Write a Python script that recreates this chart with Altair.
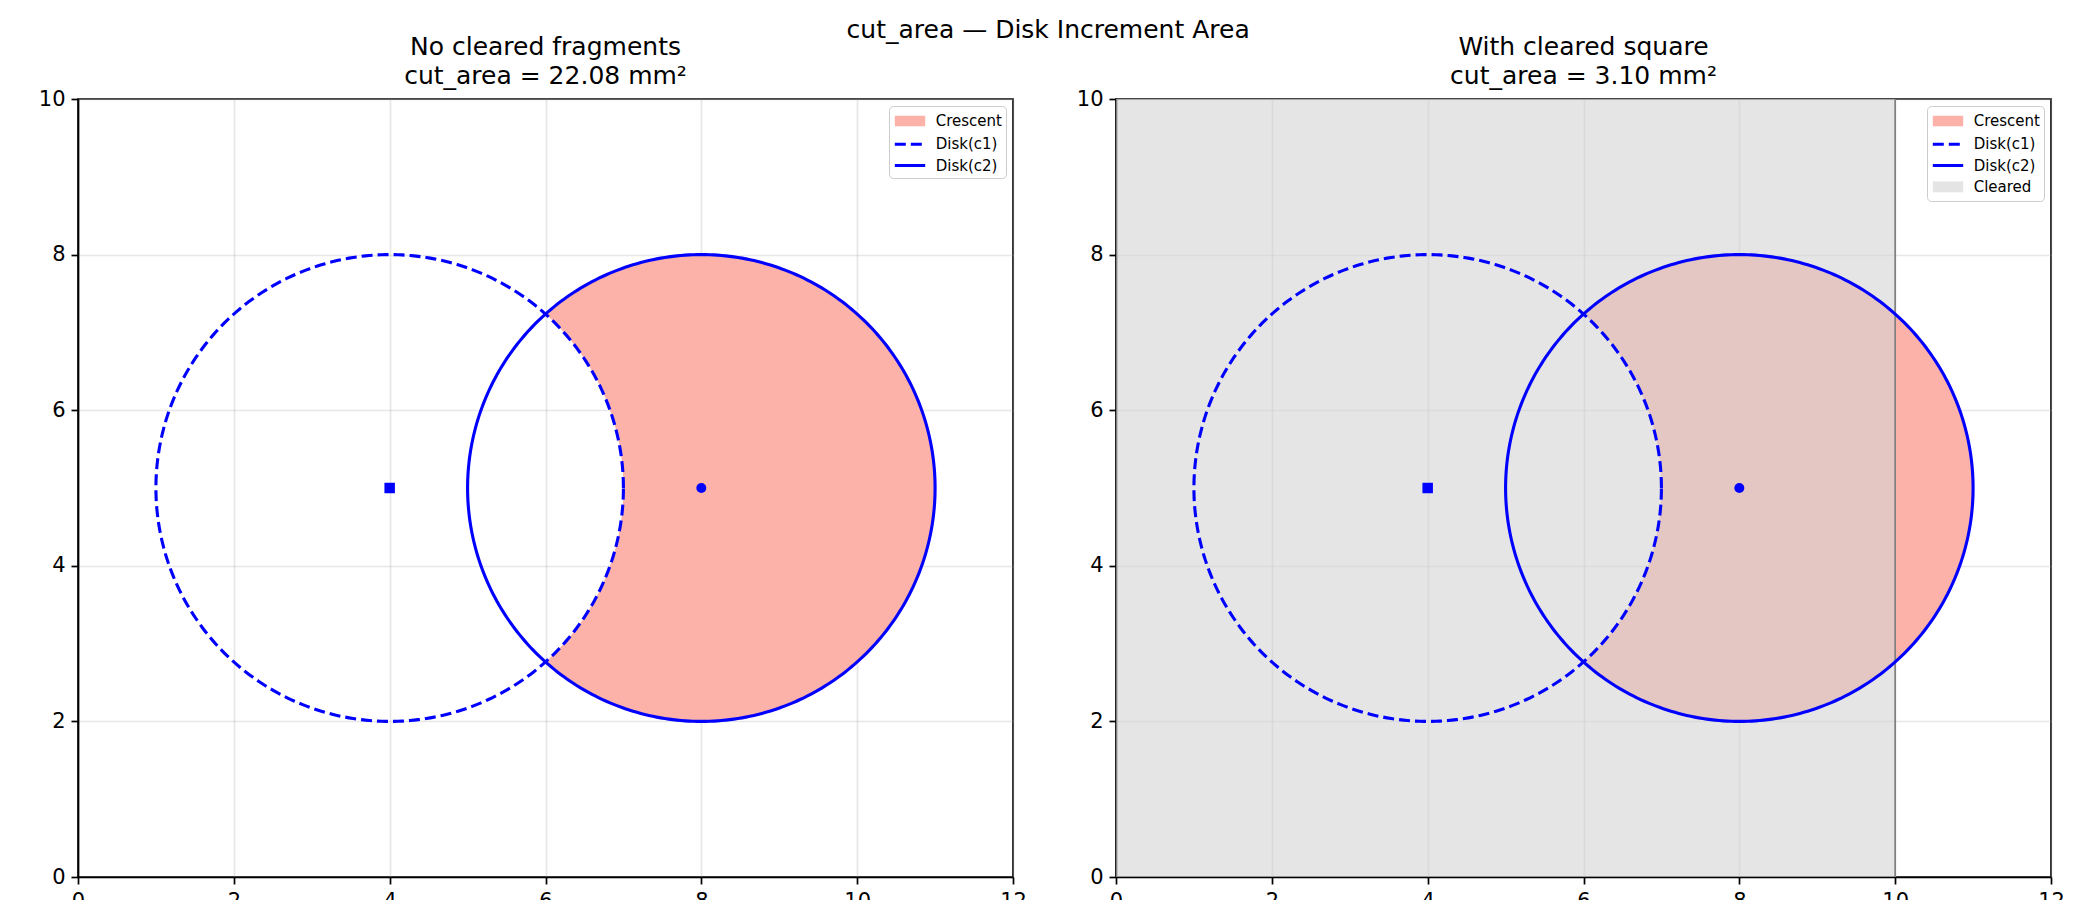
"""Crescent cut-area figure: two panels, with and without a cleared square."""

import altair as alt
import numpy as np
import pandas as pd


PLOT_W = 935
PLOT_H = 778
FONT = 'DejaVu Sans'

x_ticks = [0, 2, 4, 6, 8, 10, 12]
y_ticks = [0, 2, 4, 6, 8, 10]

c1_center = [4, 5]
c2_center = [8, 5]
radius = 3
cleared_x = [0, 10]
cleared_y = [0, 10]

panel_titles = [
    ['No cleared fragments', 'cut_area = 22.08 mm²'],
    ['With cleared square', 'cut_area = 3.10 mm²'],
]
legend_names = ['Crescent', 'Disk(c1)', 'Disk(c2)', 'Cleared']
legend_colors = ['#fcb2a8', 'blue', 'blue', '#e4e4e4']
legend_dashes = [[1, 0], [11, 5], [1, 0], [1, 0]]
# patch swatch = stacked strokes, line swatch = single stroke
PATCH = 'M-1.6,-0.4H1.6M-1.6,-0.13H1.6M-1.6,0.13H1.6M-1.6,0.4H1.6'
LINE = 'M-1.6,0H1.6'
legend_shapes = [PATCH, LINE, LINE, PATCH]


def circle_outline(center, r):
    """Outline points of a circle, ordered by angle."""
    t = np.linspace(0, 2 * np.pi, 361)
    return pd.DataFrame({
        'i': np.arange(len(t)),
        'x': center[0] + r * np.cos(t),
        'y': center[1] + r * np.sin(t),
    })


def crescent_band(c_in, c_out, r):
    """Disk(c_out) minus Disk(c_in) as left/right bounds per y."""
    t = np.linspace(0, np.pi, 301)
    y = c_out[1] - r * np.cos(t)
    cross = np.sqrt(r ** 2 - ((c_out[0] - c_in[0]) / 2) ** 2)
    y = np.sort(np.concatenate([y, [c_out[1] - cross, c_out[1] + cross]]))
    half_out = np.sqrt(np.clip(r ** 2 - (y - c_out[1]) ** 2, 0, None))
    half_in = np.sqrt(np.clip(r ** 2 - (y - c_in[1]) ** 2, 0, None))
    inner = np.where(half_in > 0, c_in[0] + half_in, -np.inf)
    left = np.maximum(inner, c_out[0] - half_out)
    return pd.DataFrame({'y': y, 'left': left, 'right': c_out[0] + half_out})


def xy(x_field, y_field):
    x = alt.X(x_field, scale=alt.Scale(domain=[0, 12], nice=False),
              axis=alt.Axis(values=x_ticks, title=None))
    y = alt.Y(y_field, scale=alt.Scale(domain=[0, 10], nice=False),
              axis=alt.Axis(values=y_ticks, title=None, minExtent=50, maxExtent=50))
    return x, y


def legend_layer(n):
    names = legend_names[:n]
    leg = alt.Legend(
        title=None, orient='top-right', offset=7, padding=4,
        fillColor='white', strokeColor='#cccccc', cornerRadius=4,
        labelFont=FONT, labelFontSize=15, labelColor='black',
        symbolOffset=6, labelOffset=14.7,
        symbolSize=361, symbolStrokeWidth=3, rowPadding=2.3,
    )
    df = pd.DataFrame({'series': names})
    return alt.Chart(df).mark_point(filled=False, opacity=0).encode(
        stroke=alt.Stroke('series:N', scale=alt.Scale(domain=names, range=legend_colors[:n]), legend=leg),
        strokeDash=alt.StrokeDash('series:N', scale=alt.Scale(domain=names, range=legend_dashes[:n]), legend=leg),
        shape=alt.Shape('series:N', scale=alt.Scale(domain=names, range=legend_shapes[:n]), legend=leg),
        opacity=alt.value(0),
    )


def make_panel(title, cleared):
    layers = []
    x, y = xy('left:Q', 'y:Q')
    layers.append(alt.Chart(crescent_band(c1_center, c2_center, radius)).mark_area(
        orient='horizontal', color='#fcb2a8'
    ).encode(y=y, x=x, x2='right:Q'))

    if cleared:
        box = pd.DataFrame({'x': [cleared_x[0]], 'x2': [cleared_x[1]],
                            'y': [cleared_y[0]], 'y2': [cleared_y[1]]})
        x, y = xy('x:Q', 'y:Q')
        layers.append(alt.Chart(box).mark_rect(color='#d3d3d3', opacity=0.6).encode(
            x=x, x2='x2:Q', y=y, y2='y2:Q'))
        x, y = xy('x2:Q', 'y:Q')
        layers.append(alt.Chart(box).mark_rule(color='#808080', strokeWidth=1.7).encode(
            x=x, y=y, y2='y2:Q'))

    x, y = xy('x:Q', 'y:Q')
    layers.append(alt.Chart(circle_outline(c1_center, radius)).mark_line(
        color='blue', strokeWidth=3.1, strokeDash=[11, 5]
    ).encode(x=x, y=y, order='i:Q'))
    layers.append(alt.Chart(circle_outline(c2_center, radius)).mark_line(
        color='blue', strokeWidth=3.1
    ).encode(x=x, y=y, order='i:Q'))

    layers.append(alt.Chart(pd.DataFrame({'x': [c1_center[0]], 'y': [c1_center[1]]})).mark_point(
        shape='square', filled=True, size=110, color='blue', opacity=1
    ).encode(x=x, y=y))
    layers.append(alt.Chart(pd.DataFrame({'x': [c2_center[0]], 'y': [c2_center[1]]})).mark_point(
        shape='circle', filled=True, size=100, color='blue', opacity=1
    ).encode(x=x, y=y))

    layers.append(legend_layer(4 if cleared else 3))

    return alt.layer(*layers).properties(
        width=PLOT_W, height=PLOT_H,
        title=alt.TitleParams(title, font=FONT, fontSize=25, fontWeight='normal',
                              color='black', lineHeight=29, offset=-1, anchor='middle'),
    ).resolve_scale(stroke='independent', strokeDash='independent', shape='independent')


left = make_panel(panel_titles[0], cleared=False)
right = make_panel(panel_titles[1], cleared=True)

chart = alt.hconcat(left, right, spacing=37).resolve_scale(
    stroke='independent', strokeDash='independent', shape='independent'
).resolve_legend(
    stroke='independent', strokeDash='independent', shape='independent'
).properties(
    title=alt.TitleParams('cut_area — Disk Increment Area', font=FONT, fontSize=25,
                          fontWeight='normal', color='black', anchor='middle',
                          offset=-9, dx=2),
    padding={'left': 19, 'top': 10, 'right': 10, 'bottom': 10},
    background='white',
).configure_view(
    stroke='black', strokeWidth=1.7,
).configure_axis(
    labelFont=FONT, labelFontSize=21, labelColor='black', labelPadding=6,
    labelFlush=False, labelOverlap=False,
    domainColor='black', domainWidth=1.7,
    tickColor='black', tickWidth=1.7, tickSize=7,
    gridColor='#b0b0b0', gridOpacity=0.3, gridWidth=1.7, zindex=1,
)

chart.save('out.html', embed_options={'renderer': 'svg', 'actions': False})
